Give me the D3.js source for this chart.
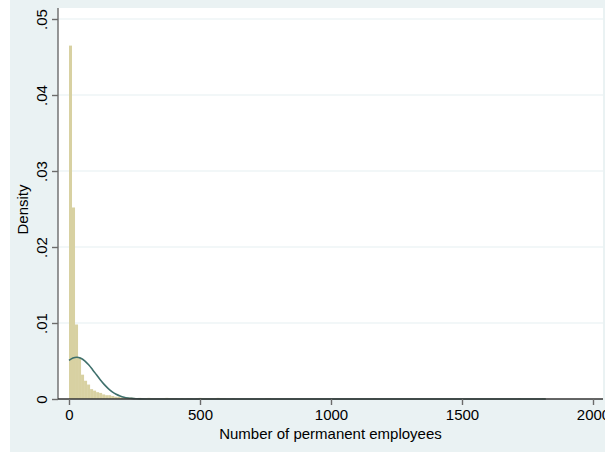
<!DOCTYPE html>
<html>
<head>
<meta charset="utf-8">
<script src="https://cdn.jsdelivr.net/npm/d3@7"></script>
<style>
  html, body { margin: 0; padding: 0; background: #ffffff; }
  svg { display: block; }
  text { font-family: "Liberation Sans", Arial, Helvetica, sans-serif; fill: #000; }
</style>
</head>
<body>
<svg id="chart" width="605" height="452"></svg>
<script>
// Histogram of permanent employees (density scale) with a normal density overlay.
const binWidth = 11.5;               // employees per histogram bin
// densities of the first consecutive bins, starting at 0 employees
const leadBins = [0.0465, 0.0252, 0.0098, 0.0055, 0.0032, 0.0024, 0.0019, 0.0013,
                  0.0011, 0.0009, 0.0008, 0.0006, 0.0005, 0.0005, 0.0004, 0.0003,
                  0.0003, 0.0002, 0.0002, 0.0002, 0.0002, 0.00015, 0.0001, 0.00015,
                  0.0001, 0.0001, 0.00015, 0.0001, 0.0001, 0.0001];
// sparse bins further out in the tail: [bin index, density]
const tailBins = [[30, 0.0001], [31, 0.0001], [32, 0.00015], [33, 0.0001], [34, 0.0001],
                  [35, 0.0001], [37, 0.0001], [39, 0.0001], [40, 0.0001], [42, 0.0001],
                  [43, 0.00015], [44, 0.0001], [45, 0.0001], [46, 0.0001], [47, 0.0001],
                  [48, 0.0001], [49, 0.00015], [50, 0.0001], [51, 0.0001], [54, 0.0001],
                  [65, 0.0001], [66, 0.0001], [101, 0.0001], [149, 0.0001], [157, 0.0001]];
// normal density overlay: employees and density
const curveX = [0, 15, 30, 45, 60, 75, 90, 105, 120, 135, 150, 165, 180, 195, 210,
                225, 240, 255, 270, 300, 400, 1000, 1820];
const curveY = [0.00508, 0.00540, 0.00550, 0.00537, 0.00502, 0.00450, 0.00386, 0.00318,
                0.00250, 0.00189, 0.00137, 0.00095, 0.00063, 0.00040, 0.00024, 0.00014,
                0.00008, 0.00004, 0.00002, 0.000005, 0, 0, 0];
const xTicks = [0, 500, 1000, 1500, 2000];
const yTicks = [0, 0.01, 0.02, 0.03, 0.04, 0.05];
const yTickLabels = ["0", ".01", ".02", ".03", ".04", ".05"];

const bins = leadBins.map((d, i) => ({ i, d })).concat(tailBins.map(([i, d]) => ({ i, d })));

const svg = d3.select("#chart");
const W = 605, H = 452;
const plot = { left: 58, right: 603, top: 8, bottom: 399 };
const fontSize = 15;

const x = d3.scaleLinear().domain([0, 2000]).range([69, 593]);
const y = d3.scaleLinear().domain([0, 0.05]).range([plot.bottom, 19]);

// graph region and plot region
svg.append("rect").attr("x", 10).attr("y", 0).attr("width", W - 10).attr("height", H)
  .attr("fill", "#eaf2f3");
svg.append("rect").attr("x", plot.left).attr("y", plot.top)
  .attr("width", plot.right - plot.left).attr("height", plot.bottom - plot.top)
  .attr("fill", "#ffffff");

// horizontal grid lines
svg.append("g").selectAll("line").data(yTicks.filter(t => t > 0)).join("line")
  .attr("x1", plot.left).attr("x2", plot.right)
  .attr("y1", d => y(d)).attr("y2", d => y(d))
  .attr("stroke", "#e6eff1").attr("stroke-width", 1.2);

// histogram bars
svg.append("g").selectAll("rect").data(bins).join("rect")
  .attr("x", b => x(b.i * binWidth))
  .attr("width", b => x((b.i + 1) * binWidth) - x(b.i * binWidth))
  .attr("y", b => y(b.d))
  .attr("height", b => y(0) - y(b.d))
  .attr("fill", "#d8d1a2");

// normal density curve
const line = d3.line().x((d, i) => x(curveX[i])).y(d => y(d)).curve(d3.curveMonotoneX);
svg.append("path").datum(curveY).attr("d", line)
  .attr("fill", "none").attr("stroke", "#3f706c").attr("stroke-width", 1.6);

// axes
const yAxis = d3.axisLeft(y).tickValues(yTicks).tickSize(6)
  .tickFormat((d, i) => yTickLabels[i]);
const gy = svg.append("g").attr("transform", `translate(${plot.left},0)`).call(yAxis);
gy.select(".domain").attr("d", `M0,${plot.bottom}V${plot.top}`)
  .attr("stroke", "#6b6b6b").attr("stroke-width", 1.4);
gy.selectAll(".tick line").attr("stroke", "#6b6b6b").attr("stroke-width", 1.4);
gy.selectAll(".tick text")
  .attr("font-size", fontSize).attr("x", 0).attr("dy", 0)
  .attr("text-anchor", "middle")
  .attr("transform", "translate(-11,0) rotate(-90)");

const xAxis = d3.axisBottom(x).tickValues(xTicks).tickSize(6).tickFormat(d3.format("d"));
const gx = svg.append("g").attr("transform", `translate(0,${plot.bottom})`).call(xAxis);
gx.select(".domain").attr("d", `M${plot.left},0H${plot.right}`)
  .attr("stroke", "#333").attr("stroke-width", 1.4);
gx.selectAll(".tick line").attr("stroke", "#6b6b6b").attr("stroke-width", 1.4);
gx.selectAll(".tick text").attr("font-size", fontSize).attr("y", 10).attr("dy", "0.71em");

// axis titles
svg.append("text").attr("x", (plot.left + plot.right) / 2).attr("y", 439)
  .attr("text-anchor", "middle").attr("font-size", fontSize)
  .text("Number of permanent employees");
svg.append("text").attr("transform", `translate(28,${(plot.top + plot.bottom) / 2 + 6}) rotate(-90)`)
  .attr("text-anchor", "middle").attr("font-size", fontSize)
  .text("Density");
</script>
</body>
</html>
